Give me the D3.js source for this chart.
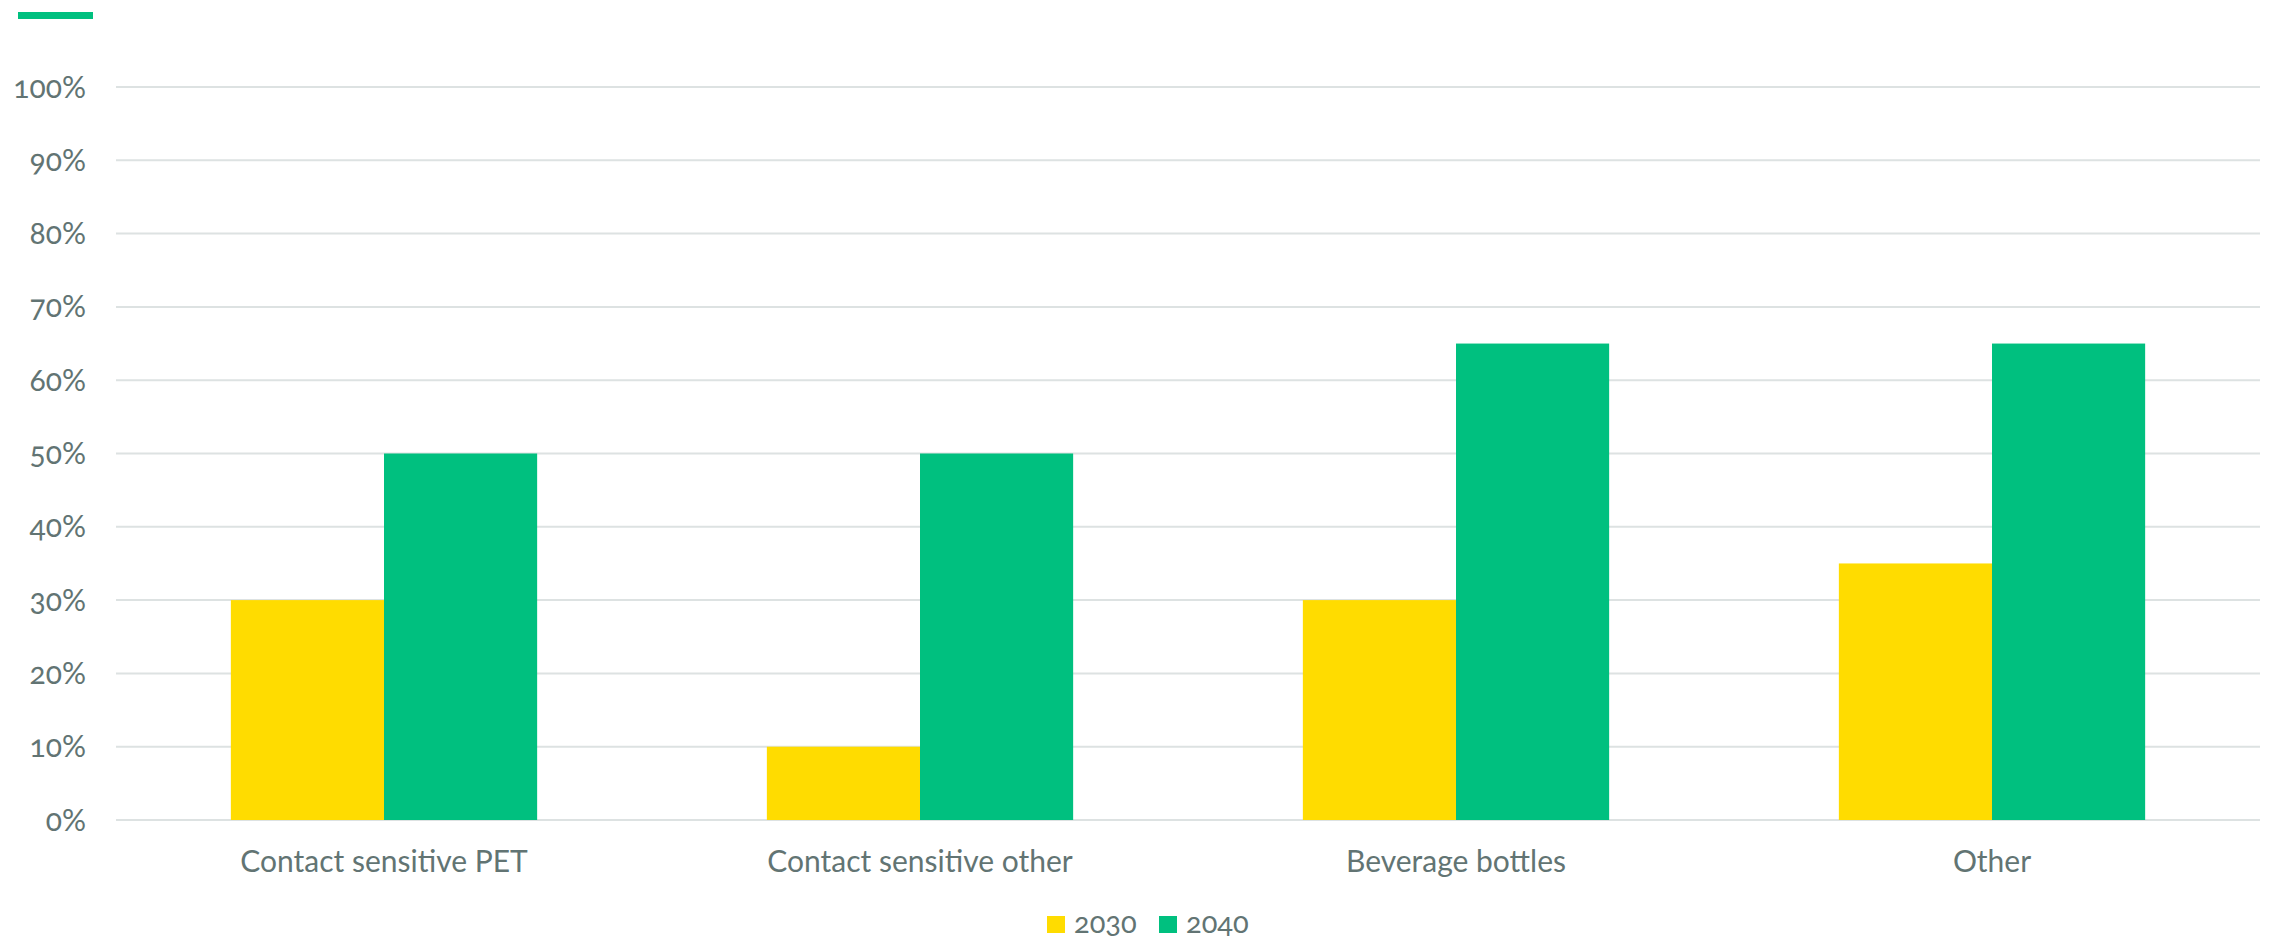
<!DOCTYPE html>
<html><head><meta charset="utf-8">
<script src="https://cdn.jsdelivr.net/npm/d3@7"></script>
<style>
body{margin:0;background:#fff;}
text{font-family:Lato,"Open Sans",sans-serif;font-variant-numeric:oldstyle-nums;font-feature-settings:"onum" 1;}
</style></head><body>
<svg id="chart" width="2270" height="941"></svg>
<script>
const categories = ["Contact sensitive PET","Contact sensitive other","Beverage bottles","Other"];
const seriesNames = ["2030","2040"];
const values2030 = [30,10,30,35];
const values2040 = [50,50,65,65];
const yTicks = [0,10,20,30,40,50,60,70,80,90,100];
const colors = ["#FFDC00","#00C07F"];
const textColor = "#627473";

const svg = d3.select("#chart");
const plotLeft = 116, plotRight = 2260, plotTop = 87, plotBottom = 820;

const x = d3.scaleBand().domain(categories).range([plotLeft,plotRight]).paddingInner(0).paddingOuter(0);
const y = d3.scaleLinear().domain([0,100]).range([plotBottom,plotTop]);
const inner = d3.scaleBand().domain(seriesNames).range([0,x.bandwidth()]).paddingInner(0).paddingOuter(0.75);

// accent bar
svg.append("rect").attr("x",18).attr("y",12).attr("width",75).attr("height",7).attr("fill","#00C07F");

// gridlines
svg.append("g").selectAll("line").data(yTicks).join("line")
  .attr("x1",plotLeft).attr("x2",plotRight)
  .attr("y1",d=>y(d)).attr("y2",d=>y(d))
  .attr("stroke","#dde2e2").attr("stroke-width",2);

// y labels
svg.append("g").selectAll("text").data(yTicks).join("text")
  .attr("x",86).attr("y",d=>y(d)).attr("dy","0.35em")
  .attr("text-anchor","end").attr("fill",textColor).attr("font-size",30)
  .text(d=>d+"%");

// bars
const data = categories.map((c,i)=>({c, v:[values2030[i],values2040[i]]}));
const g = svg.append("g");
data.forEach(d=>{
  seriesNames.forEach((s,j)=>{
    g.append("rect")
      .attr("x",x(d.c)+inner(s)).attr("width",inner.bandwidth())
      .attr("y",y(d.v[j])).attr("height",y(0)-y(d.v[j]))
      .attr("fill",colors[j]);
  });
});

// x labels
svg.append("g").selectAll("text").data(categories).join("text")
  .attr("x",d=>x(d)+x.bandwidth()/2).attr("y",872)
  .attr("text-anchor","middle").attr("fill",textColor).attr("font-size",30)
  .text(d=>d);

// legend
const legendItems = [{n:"2030",x:1047},{n:"2040",x:1159}];
const lg = svg.append("g");
legendItems.forEach((it,i)=>{
  lg.append("rect").attr("x",it.x).attr("y",916).attr("width",18).attr("height",17).attr("fill",colors[i]);
  lg.append("text").attr("x",it.x+27).attr("y",933).attr("fill",textColor).attr("font-size",29).text(it.n);
});
</script>
</body></html>
